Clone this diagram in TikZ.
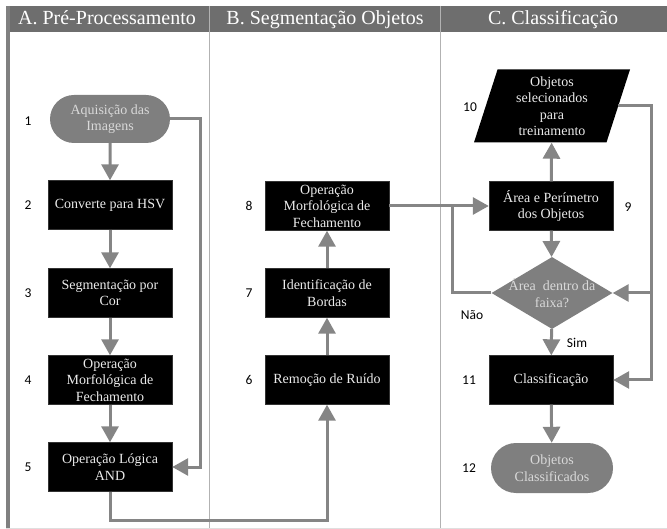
\documentclass[tikz,border=0pt]{standalone}
\usepackage{fontspec}
\setmainfont{Liberation Serif}
\newfontfamily\serifa{Liberation Serif}
\newfontfamily\calibri{Carlito}
\usetikzlibrary{shapes.geometric,shapes.misc,arrows.meta}
\definecolor{cabecalho}{HTML}{6E6E6E}
\definecolor{cinza}{HTML}{7F7F7F}
\definecolor{cinzaseta}{HTML}{858585}
\begin{document}
\begin{tikzpicture}[x=1pt,y=-1pt,
		processo/.style = {fill=black,draw=black!80,text=white!92!black,minimum width=124pt,minimum height=49pt,inner sep=2pt,align=center,font=\serifa\fontsize{14}{16.5}\selectfont},
		terminal/.style = {rounded rectangle,fill=cinza,text=white!85!black,minimum width=124pt,minimum height=48pt,inner sep=2pt,align=center,font=\serifa\fontsize{14}{16.5}\selectfont},
		decisao/.style = {diamond,fill=cinza,minimum width=121pt,minimum height=72pt,inner sep=0pt},
		dados/.style = {trapezium,trapezium left angle=69,trapezium right angle=111,trapezium stretches body,fill=black,text=white!92!black,minimum width=156pt,minimum height=73pt,inner sep=1pt,align=center,font=\serifa\fontsize{14}{16.5}\selectfont},
		numero/.style = {font=\calibri\fontsize{13.5}{15}\selectfont},
		titulo/.style = {text=white,anchor=base,font=\serifa\fontsize{20}{22}\selectfont},
		seta/.style = {draw=cinzaseta,line width=3pt,-{Triangle[length=16pt,width=17pt]}},
		linha/.style = {draw=cinzaseta,line width=3pt}]
		\useasboundingbox (0,0) rectangle (667,529);
		
		% raias
		\fill[cabecalho] (6,6) rectangle (667,32);
		\draw[gray!60, line width=0.8pt] (209,6) -- (209,529);
		\draw[gray!60, line width=0.8pt] (440,6) -- (440,529);
		\draw[gray, line width=4pt] (8,6) -- (8,529);
		\draw[gray!25] (6,528) -- (667,528);
		\node[titulo] (tA) at (107,25) {A. Pré-Processamento};
		\node[titulo] (tB) at (325,25) {B. Segmentação Objetos};
		\node[titulo] (tC) at (553,25) {C. Classificação};
		
		% A
		\node[terminal] (acq) at (110,119) {Aquisição das\\Imagens};
		\node[processo] (hsv) at (110,205) {Converte para HSV};
		\node[processo] (cor) at (110,293) {Segmentação por\\Cor};
		\node[processo] (morfA) at (110,380) {Operação\\Morfológica de\\Fechamento};
		\node[processo] (logica) at (110,467) {Operação Lógica\\AND};
		
		% B
		\node[processo] (ruido) at (327,380) {Remoção de Ruído};
		\node[processo] (bordas) at (327,293) {Identificação de\\Bordas};
		\node[processo] (morfB) at (327,206) {Operação\\Morfológica de\\Fechamento};
		
		% C
		\node[dados] (objsel) at (552,106) {Objetos\\selecionados\\para\\treinamento};
		\node[processo] (area) at (551,206) {Área e Perímetro\\dos Objetos};
		\node[decisao, label={[text=white!85!black,align=center,font=\serifa\fontsize{14}{16.5}\selectfont]center:Área\ \ dentro da\\faixa?}] (dec) at (552,293) {};
		\node[processo] (classif) at (551,380) {Classificação};
		\node[terminal, minimum width=126pt, minimum height=50pt] (objcl) at (552,468) {Objetos\\Classificados};
		
		\node[numero] (n1) at (28,121) {1};
		\node[numero] (n2) at (28,205) {2};
		\node[numero] (n3) at (28,293) {3};
		\node[numero] (n4) at (28,380) {4};
		\node[numero] (n5) at (28,467) {5};
		\node[numero] (n6) at (249,380) {6};
		\node[numero] (n7) at (249,293) {7};
		\node[numero] (n8) at (249,206) {8};
		\node[numero] (n9) at (628,207) {9};
		\node[numero] (n10) at (470,107) {10};
		\node[numero] (n11) at (469,380) {11};
		\node[numero] (n12) at (469,468) {12};
		\node[numero] (nao) at (472,315) {Não};
		\node[numero] (sim) at (577,343) {Sim};
		
		\coordinate (cA) at (200,0);
		\coordinate (cB) at (0,520);
		\coordinate (cC) at (452,0);
		\coordinate (cD) at (651,0);
		
		\draw[seta] (acq) -- (hsv);
		\draw[seta] (hsv) -- (cor);
		\draw[seta] (cor) -- (morfA);
		\draw[seta] (morfA) -- (logica);
		\draw[seta] (acq.east) -- (acq.east -| cA) -- (logica.east -| cA) -- (logica.east);
		\draw[seta] (logica.south) -- (logica.south |- cB) -- (ruido.south |- cB) -- (ruido.south);
		\draw[seta] (ruido) -- (bordas);
		\draw[seta] (bordas) -- (morfB);
		\draw[seta] (morfB) -- (area);
		\draw[seta] (area) -- (objsel);
		\draw[seta] (area) -- (dec);
		\draw[seta] (dec) -- (classif);
		\draw[seta] (classif) -- (objcl);
		\draw[linha] (dec.west) -- (dec.west -| cC) -- (morfB.east -| cC);
		\draw[seta] (objsel.east) -- (objsel.east -| cD) -- (classif.east -| cD) -- (classif.east);
		\draw[seta] (dec.east -| cD) -- (dec.east);
	\end{tikzpicture}
\end{document}
